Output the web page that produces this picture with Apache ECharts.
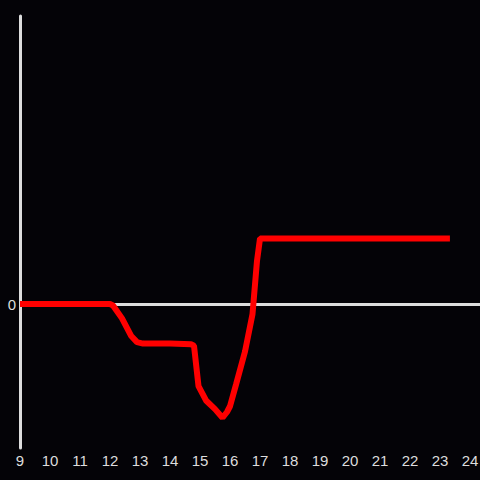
<!DOCTYPE html>
<html>
<head>
<meta charset="utf-8">
<script src="https://cdn.jsdelivr.net/npm/echarts@6/dist/echarts.min.js"></script>
<style>
  html, body { margin: 0; padding: 0; background: #040307; }
  #chart { width: 480px; height: 480px; }
</style>
</head>
<body>
<div id="chart"></div>
<script>
// hour of day and value at that time
var hours = [9, 12.0, 12.1, 12.4, 12.7, 12.9, 13.1, 14.0, 14.7, 14.8, 14.95, 15.2, 15.5, 15.75, 15.9, 16.0, 16.2, 16.5, 16.75, 16.9, 17.0, 23.33];
var values = [0, 0, -0.01, -0.1, -0.22, -0.265, -0.275, -0.275, -0.28, -0.29, -0.57, -0.67, -0.73, -0.79, -0.75, -0.71, -0.56, -0.33, -0.07, 0.3, 0.455, 0.455];
var xMin = 9;
var xMax = 24.333;

(function() {
  var chart = echarts.init(document.getElementById('chart'), null, { renderer: 'svg' });
  var axisColor = '#dddddd';
  chart.setOption({
    animation: false,
    backgroundColor: '#040307',
    grid: { left: 20, right: 0, top: 16, bottom: 32, containLabel: false, outerBoundsMode: 'none' },
    xAxis: {
      type: 'value',
      min: xMin,
      max: xMax,
      interval: 1,
      axisLine: { show: false, onZero: false },
      axisTick: { show: false },
      splitLine: { show: false },
      axisLabel: {
        color: axisColor,
        fontSize: 15,
        fontFamily: 'Liberation Sans',
        margin: 5,
        hideOverlap: false,
        formatter: function(v) { return Math.abs(v - Math.round(v)) < 1e-6 ? String(Math.round(v)) : ''; }
      }
    },
    yAxis: {
      type: 'value',
      min: -1,
      max: 2,
      interval: 1,
      axisLine: { show: true, lineStyle: { color: axisColor, width: 3 } },
      axisTick: { show: false },
      splitLine: { show: false },
      axisLabel: {
        color: axisColor,
        fontSize: 15,
        fontFamily: 'Liberation Sans',
        margin: 4,
        formatter: function(v) { return v === 0 ? '0' : ''; }
      }
    },
    series: [{
      type: 'line',
      data: hours.map(function(h, i) { return [h, values[i]]; }),
      showSymbol: false,
      lineStyle: { color: '#ff0000', width: 6 },
      z: 3,
      markLine: {
        silent: true,
        symbol: 'none',
        label: { show: false },
        lineStyle: { color: axisColor, width: 3, type: 'solid' },
        data: [{ yAxis: 0 }],
        z: 1
      }
    }]
  });
})();
</script>
</body>
</html>
